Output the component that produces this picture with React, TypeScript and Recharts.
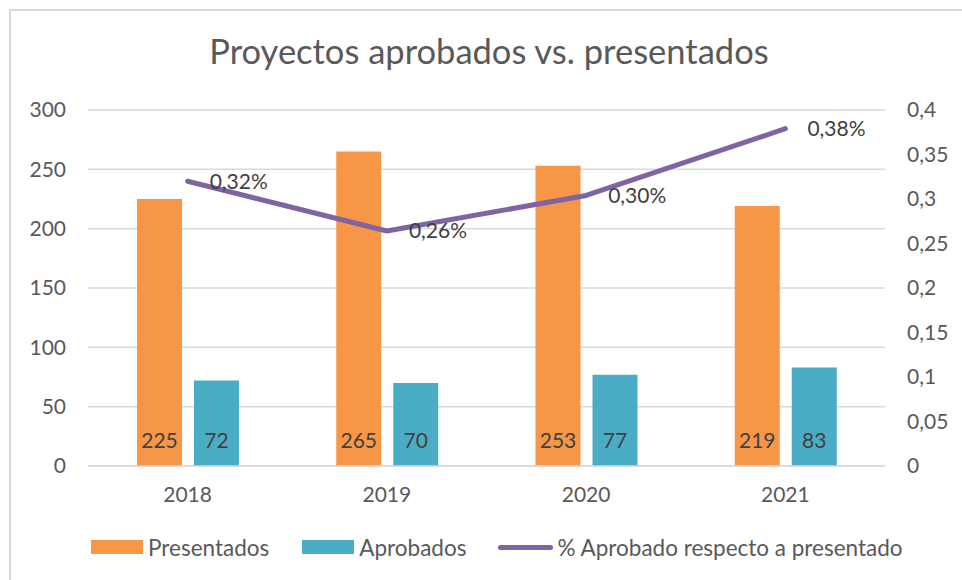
import React from 'react';
import { ComposedChart, Bar, Line, XAxis, YAxis, CartesianGrid, LabelList } from 'recharts';

const years = ['2018', '2019', '2020', '2021'];
const presentados = [225, 265, 253, 219];
const aprobados = [72, 70, 77, 83];
const porcentaje = [0.32, 0.264, 0.304, 0.379];
const leftTicks = [0, 50, 100, 150, 200, 250, 300];
const rightTicks = [0, 0.05, 0.1, 0.15, 0.2, 0.25, 0.3, 0.35, 0.4];

const ORANGE = '#F79646';
const BLUE = '#4BACC6';
const PURPLE = '#8064A2';
const GRID = '#D9D9D9';
const AXIS_TEXT = '#595959';
const LABEL_TEXT = '#404040';
const FONT = 'Lato, "Open Sans", sans-serif';

const data = years.map((year, i) => ({
  year,
  presentados: presentados[i],
  aprobados: aprobados[i],
  porcentaje: porcentaje[i]
}));

const comma = (v: number) => String(v).replace('.', ',');
const pct = (v: number) => v.toFixed(2).replace('.', ',') + '%';

function LegendItem({ kind, color, label, gapAfter }: { kind: 'rect' | 'line'; color: string; label: string; gapAfter: number }) {
  return <div style={{ display: 'flex', alignItems: 'center', marginRight: gapAfter }}>
      {kind === 'rect' ? <div style={{ width: 52, height: 14, background: color, marginRight: 5 }} /> : <div style={{ width: 55, height: 5, borderRadius: 3, background: color, marginRight: 4 }} />}
      <span style={{ fontSize: 22.5, color: AXIS_TEXT }}>{label}</span>
    </div>;
}

export default function App() {
  return <div style={{ position: 'absolute', left: 0, top: 0, width: 962, height: 580, background: '#fff', fontFamily: FONT, overflow: 'hidden' }}>
      <div style={{ position: 'absolute', left: 9, top: 9, width: 970, height: 590, borderLeft: `2px solid ${GRID}`, borderTop: `2px solid ${GRID}` }} />
      <div style={{ position: 'absolute', left: 0, top: 31, width: 978, textAlign: 'center', fontSize: 34.5, color: AXIS_TEXT, lineHeight: '40px' }}>
        Proyectos aprobados vs. presentados
      </div>
      <div style={{ position: 'absolute', left: 0, top: 0 }}>
        <ComposedChart width={962} height={580} data={data} barGap={12} margin={{ top: 110, right: 0, bottom: 74, left: 0 }}>
          <CartesianGrid yAxisId="left" vertical={false} stroke={GRID} strokeWidth={1.5} />
          <XAxis dataKey="year" height={40} axisLine={{ stroke: GRID, strokeWidth: 1.5 }} tickLine={false} tickSize={0} tickMargin={21} tick={{ fill: AXIS_TEXT, fontSize: 21, fontFamily: FONT }} />
          <YAxis yAxisId="left" width={88} domain={[0, 300]} ticks={leftTicks} axisLine={false} tickLine={false} tickSize={0} tickMargin={22} tick={{ fill: AXIS_TEXT, fontSize: 21, fontFamily: FONT }} />
          <YAxis yAxisId="right" orientation="right" width={77} domain={[0, 0.4]} ticks={rightTicks} tickFormatter={comma} axisLine={false} tickLine={false} tickSize={0} tickMargin={22} tick={{ fill: AXIS_TEXT, fontSize: 21, fontFamily: FONT }} />
          <Bar yAxisId="left" dataKey="presentados" fill={ORANGE} barSize={45} isAnimationActive={false}>
            <LabelList dataKey="presentados" position="insideBottom" offset={18} fill={LABEL_TEXT} fontSize={21} fontFamily={FONT} />
          </Bar>
          <Bar yAxisId="left" dataKey="aprobados" fill={BLUE} barSize={45} isAnimationActive={false}>
            <LabelList dataKey="aprobados" position="insideBottom" offset={18} fill={LABEL_TEXT} fontSize={21} fontFamily={FONT} />
          </Bar>
          <Line yAxisId="right" dataKey="porcentaje" stroke={PURPLE} strokeWidth={5} strokeLinecap="round" strokeLinejoin="round" dot={false} activeDot={false} isAnimationActive={false}>
            <LabelList dataKey="porcentaje" position="right" offset={22} formatter={(v: any) => pct(Number(v))} fill={LABEL_TEXT} fontSize={21} fontFamily={FONT} />
          </Line>
        </ComposedChart>
      </div>
      <div style={{ position: 'absolute', left: 91, top: 533, height: 28, display: 'flex', alignItems: 'center' }}>
        <LegendItem kind="rect" color={ORANGE} label="Presentados" gapAfter={33} />
        <LegendItem kind="rect" color={BLUE} label="Aprobados" gapAfter={32} />
        <LegendItem kind="line" color={PURPLE} label="% Aprobado respecto a presentado" gapAfter={0} />
      </div>
    </div>;
}
